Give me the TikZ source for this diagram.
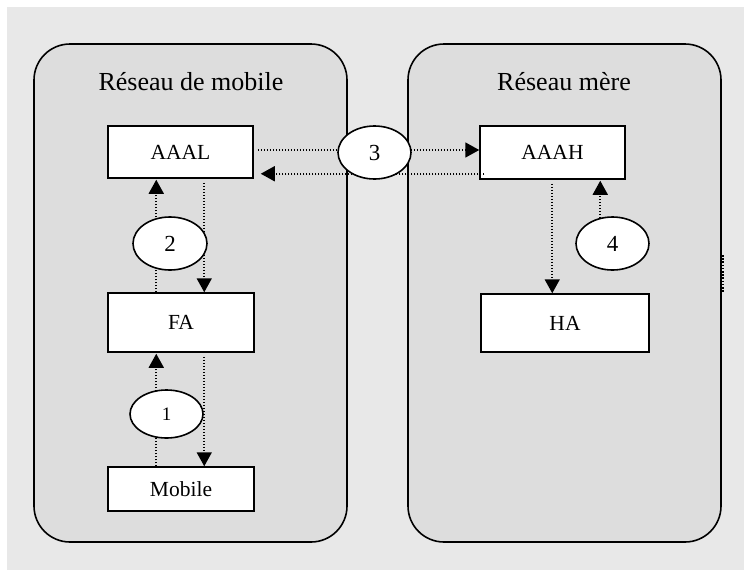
\documentclass[tikz,border=0pt]{standalone}
\usepackage{fontspec}
\setmainfont{Liberation Serif}
\usetikzlibrary{arrows.meta,shapes.geometric}
\definecolor{panelgray}{HTML}{E8E8E8}
\definecolor{netgray}{HTML}{DDDDDD}
\tikzset{
  netarea/.style={draw=black,line width=1.6pt,fill=netgray,rounded corners=36pt},
  nettitle/.style={font=\fontsize{26}{30}\selectfont,inner sep=0pt},
  entity/.style={draw=black,line width=1.5pt,fill=white,inner sep=0pt,
    font=\fontsize{21.5}{25}\selectfont},
  stepoval/.style={ellipse,draw=black,line width=1.6pt,fill=white,inner sep=0pt,
    font=\fontsize{23}{27}\selectfont},
  flow/.style={line width=1.7pt,dash pattern=on 1.6pt off 1.4pt,
    -{Triangle[length=14pt,width=15pt]}},
  tickmark/.style={line width=2pt,dash pattern=on 1.6pt off 1.6pt}
}
\begin{document}
\begin{tikzpicture}[x=1pt,y=-1pt]
  \useasboundingbox (0,0) rectangle (744,576);
  % page background
  \fill[panelgray] (7,7) rectangle (744,570);
  % the two networks
  \draw[netarea] (34,44) rectangle (347,542);
  \draw[netarea] (408,44) rectangle (721,542);
  \node[nettitle] (tmob) at (191,82) {Réseau de mobile};
  \node[nettitle] (tmere) at (564,82) {Réseau mère};
  % entities
  \node[entity,minimum width=145pt,minimum height=52pt] (AAAL) at (180.5,152) {AAAL};
  \node[entity,minimum width=146pt,minimum height=59pt] (FA) at (181,322.5) {FA};
  \node[entity,minimum width=146pt,minimum height=44pt] (Mobile) at (181,489) {Mobile};
  \node[entity,minimum width=145pt,minimum height=53pt] (AAAH) at (552.5,152.5) {AAAH};
  \node[entity,minimum width=168pt,minimum height=58pt] (HA) at (565,323) {HA};
  % message flows
  \draw[flow] ([xshift=4pt,yshift=2pt]AAAL.east) -- ([yshift=2.5pt]AAAH.west);
  \draw[flow] ([xshift=5pt,yshift=6pt]AAAH.south west) -- ([xshift=7pt,yshift=5pt]AAAL.south east);
  \draw[flow] ([xshift=49pt]FA.north west) -- ([xshift=49pt,yshift=-1pt]AAAL.south west);
  \draw[flow] ([xshift=97pt,yshift=-4pt]AAAL.south west) -- ([xshift=97pt]FA.north west);
  \draw[flow] ([xshift=49pt]Mobile.north west) -- ([xshift=49pt,yshift=-1pt]FA.south west);
  \draw[flow] ([xshift=97pt,yshift=-4pt]FA.south west) -- ([xshift=97pt]Mobile.north west);
  \draw[flow] ([xshift=73pt,yshift=-4pt]AAAH.south west) -- ([xshift=72pt]HA.north west);
  % step numbers
  \node[stepoval,minimum width=73pt,minimum height=53pt] (E3) at (374.5,152.5) {3};
  \node[stepoval,minimum width=74pt,minimum height=53pt] (E2) at (170,243.5) {2};
  \node[stepoval,minimum width=73pt,minimum height=48pt,font=\fontsize{19}{22}\selectfont] (E1) at (166.5,414) {1};
  \node[stepoval,minimum width=73pt,minimum height=53pt] (E4) at (612.5,243.5) {4};
  % flow from step 4 up to AAAH
  \coordinate (a4) at ([xshift=121pt,yshift=-1pt]AAAH.south west);
  \draw[flow] ([yshift=-2pt]a4 |- E4.north) -- (a4);
  % short mark beside the home network
  \coordinate (m1) at (723,255);
  \coordinate (m2) at (723,292);
  \draw[tickmark] (m1) -- (m2);
\end{tikzpicture}
\end{document}
